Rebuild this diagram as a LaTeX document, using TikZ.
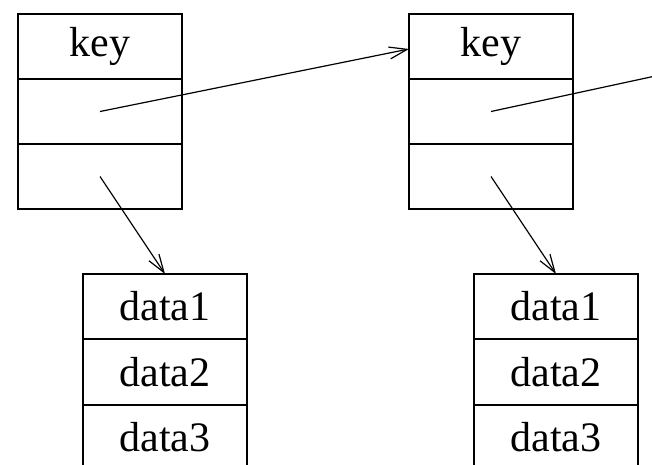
\documentclass[tikz,border=0pt]{standalone}
\usepackage{fontspec}
\setmainfont{Liberation Serif}
\usetikzlibrary{arrows.meta}
\begin{document}
\begin{tikzpicture}[x=1pt,y=-1pt,
  cell/.style={draw,line width=1.2pt,minimum width=164pt,minimum height=65pt,inner sep=0pt,outer sep=0pt,font=\fontsize{42}{48}\selectfont},
  link/.style={line width=1.2pt,-{Straight Barb[length=18pt,width=12pt,line width=1.2pt]}},
  plain/.style={line width=1.2pt}]
\useasboundingbox (0,0) rectangle (652,464);
\clip (0,0) rectangle (652,464);
% left key record
\node[cell] (k1) at (100,46.5) {key};
\node[cell] (n1) at (100,111.5) {};
\node[cell] (d1) at (100,176.5) {};
% right key record
\node[cell] (k2) at (491,46.5) {key};
\node[cell] (n2) at (491,111.5) {};
\node[cell] (d2) at (491,176.5) {};
% left data record
\node[cell] (a1) at (165,306.5) {data1};
\node[cell] (a2) at (165,372) {data2};
\node[cell] (a3) at (165,437.5) {data3};
% right data record
\node[cell] (b1) at (556,306.5) {data1};
\node[cell] (b2) at (556,372) {data2};
\node[cell] (b3) at (556,437.5) {data3};
% connectors
\coordinate (k2in) at ([yshift=-2.5pt]k2.west);
\coordinate (out) at (660,75);
\draw[link] (n1.center) -- (k2in);
\draw[plain] (n2.center) -- (out);
\draw[link] (d1.center) -- (a1.north);
\draw[link] (d2.center) -- (b1.north);
\end{tikzpicture}
\end{document}
